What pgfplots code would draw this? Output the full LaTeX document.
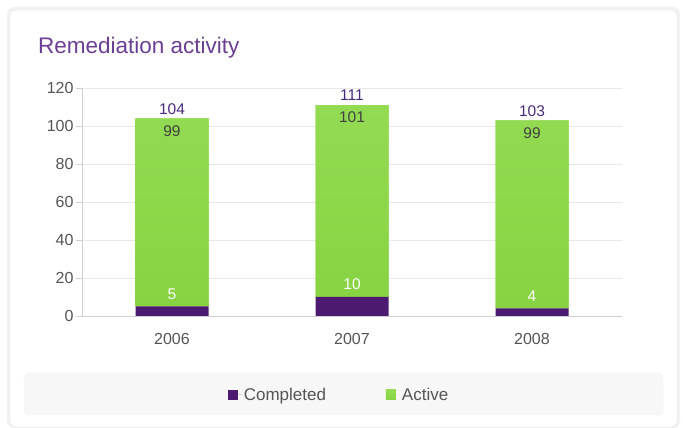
\documentclass[border=0pt]{standalone}
\usepackage{pgfplots}
\pgfplotsset{compat=1.18}
\usepackage{fontspec}
\setmainfont{Liberation Sans}
\definecolor{cpurple}{HTML}{4C1A70}
\definecolor{cgreenT}{HTML}{93DB52}
\definecolor{cgreenB}{HTML}{87D342}
\definecolor{cgreen}{HTML}{8ED84A}
\definecolor{ctitle}{HTML}{6B3F94}
\definecolor{ctext}{HTML}{555555}
\definecolor{cgrid}{HTML}{E8E8E8}
\definecolor{caxis}{HTML}{D0D0D0}
\definecolor{clabel}{HTML}{4A2A7A}
\begin{document}
\begin{tikzpicture}[x=1pt,y=1pt]
\fill[white] (0,0) rectangle (683,428);
\fill[black!5, rounded corners=7pt] (7,0) rectangle (680,421);
\fill[white, draw=black!10, rounded corners=6pt] (10,1) rectangle (677,418);
\fill[black!3, draw=black!6, rounded corners=6pt] (24,13) rectangle (663,55);
\node[anchor=base west, inner sep=0pt, text=ctitle, font=\fontsize{22.5}{26}\selectfont] at (38,374) {Remediation activity};
\pgfplotsset{
  common/.style={
    at={(82pt,112pt)}, anchor=south west,
    scale only axis, width=540pt, height=228pt,
    xmin=-0.5, xmax=2.5, ymin=0, ymax=120,
    bar width=73pt,
  },
  lbl/.style={nodes near coords={\pgfplotspointmeta},
    every node near coord/.append style={anchor=center, font=\fontsize{15.5}{18}\selectfont, #1}},
}
\begin{axis}[common,
  ybar stacked,
  axis x line*=bottom, axis y line*=left,
  axis line style={draw=caxis, -},
  xtick={0,1,2}, xticklabels={2006,2007,2008},
  x tick style={draw=none},
  extra x ticks={0.5,1.5,2.5}, extra x tick labels={},
  extra x tick style={tick align=center, major tick length=12pt, tick style={draw=caxis}},
  ytick={0,20,...,120},
  y tick style={draw=caxis},
  tick align=outside, major tick length=6pt,
  ymajorgrids, grid style={draw=cgrid},
  tick label style={font=\fontsize{16}{18}\selectfont, text=ctext},
  /pgf/number format/assume math mode=true,
  xticklabel style={yshift=-8pt},
  yticklabel style={xshift=1pt},
  legend style={at={(0.476,-0.346)}, anchor=center, legend columns=2, draw=none, fill=none,
    font=\fontsize{17}{19}\selectfont, text=ctext,
    /tikz/every even column/.append style={column sep=58pt}},
  legend image code/.code={\fill[#1] (0pt,-5pt) rectangle (10pt,5pt); \path (0pt,0pt) -- (14pt,0pt);},
]
\addplot[fill=cpurple, draw=none] coordinates {(0,5) (1,10) (2,4)};
\addlegendentry{Completed}
\addplot[fill=cgreen, top color=cgreenT, bottom color=cgreenB, draw=none]
  coordinates {(0,99) (1,101) (2,99)};
\addlegendentry{Active}
\end{axis}
\begin{axis}[common, ybar, hide axis, point meta=explicit symbolic]
% completed values, labelled just above the purple segment
\addplot[draw=none, fill=none, bar shift=0pt, lbl={yshift=12.5pt, text=white}]
  coordinates {(0,5) [5] (1,10) [10] (2,4) [4]};
% active values, labelled just below the top of the stack
\addplot[draw=none, fill=none, bar shift=0pt, lbl={yshift=-12.5pt, text=black!75}]
  coordinates {(0,104) [99] (1,111) [101] (2,103) [99]};
% totals above the stack
\addplot[draw=none, fill=none, bar shift=0pt, lbl={yshift=9.5pt, text=clabel}]
  coordinates {(0,104) [104] (1,111) [111] (2,103) [103]};
\end{axis}
\end{tikzpicture}
\end{document}
